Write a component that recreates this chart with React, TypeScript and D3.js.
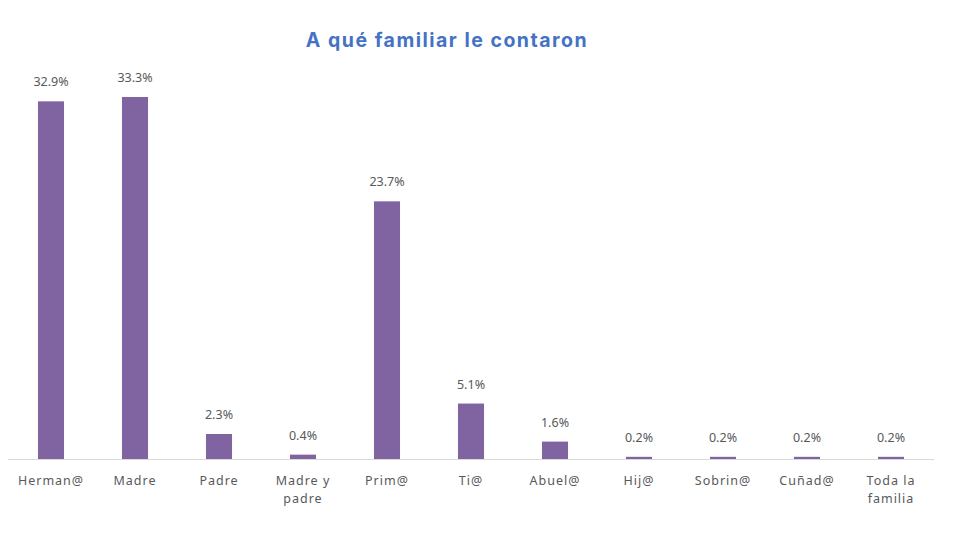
import * as React from 'react'
import * as d3 from 'd3'

const categories = ['Herman@', 'Madre', 'Padre', 'Madre y\npadre', 'Prim@', 'Ti@', 'Abuel@', 'Hij@', 'Sobrin@', 'Cuñad@', 'Toda la\nfamilia']
const values = [32.9, 33.3, 2.3, 0.4, 23.7, 5.1, 1.6, 0.2, 0.2, 0.2, 0.2]
const title = 'A qué familiar le contaron'

export default function App() {
    const WIDTH = 974
    const HEIGHT = 544
    const BASE = 459
    const LEFT = 9
    const RIGHT = 933
    const BAR_COLOR = '#8064A2'
    const TEXT_COLOR = '#595959'
    const FONT = '"Noto Sans", "Open Sans", sans-serif'

    const x = d3.scaleBand().domain(categories).range([LEFT, RIGHT]).paddingInner(0.69).paddingOuter(0.345)
    const y = d3.scaleLinear().domain([0, 35]).range([BASE, BASE - 380.5])

    return <svg width={WIDTH} height={HEIGHT} style={{ position: 'absolute', left: 0, top: 0 }}>
        <rect width={WIDTH} height={HEIGHT} fill="#fff" />
        <text x={447} y={47} textAnchor="middle" fontFamily='Inter, sans-serif' fontWeight={700} fontSize={19.5} letterSpacing={1.5} fill="#4472C4">{title}</text>

        {categories.map((c, i) => {
            const cx = (x(c) as number) + x.bandwidth() / 2
            const v = values[i]
            const lines = c.split('\n')
            return <g key={i}>
                <rect x={x(c)} y={y(v)} width={x.bandwidth()} height={Math.max(BASE - y(v), 3)} fill={BAR_COLOR} />
                <text x={cx} y={y(v) - 15} textAnchor="middle" fontFamily={FONT} fontSize={12.5} fill={TEXT_COLOR}>{v.toFixed(1)}%</text>
                {lines.map((l, j) =>
                    <text key={j} x={cx} y={485 + j * 18} textAnchor="middle" fontFamily={FONT} fontSize={12.5} letterSpacing={1} fill={TEXT_COLOR}>{l}</text>
                )}
            </g>
        })}

        <line x1={LEFT - 1} x2={RIGHT + 1} y1={BASE + 0.5} y2={BASE + 0.5} stroke="#d9d9d9" strokeWidth={1} />
    </svg>
}
